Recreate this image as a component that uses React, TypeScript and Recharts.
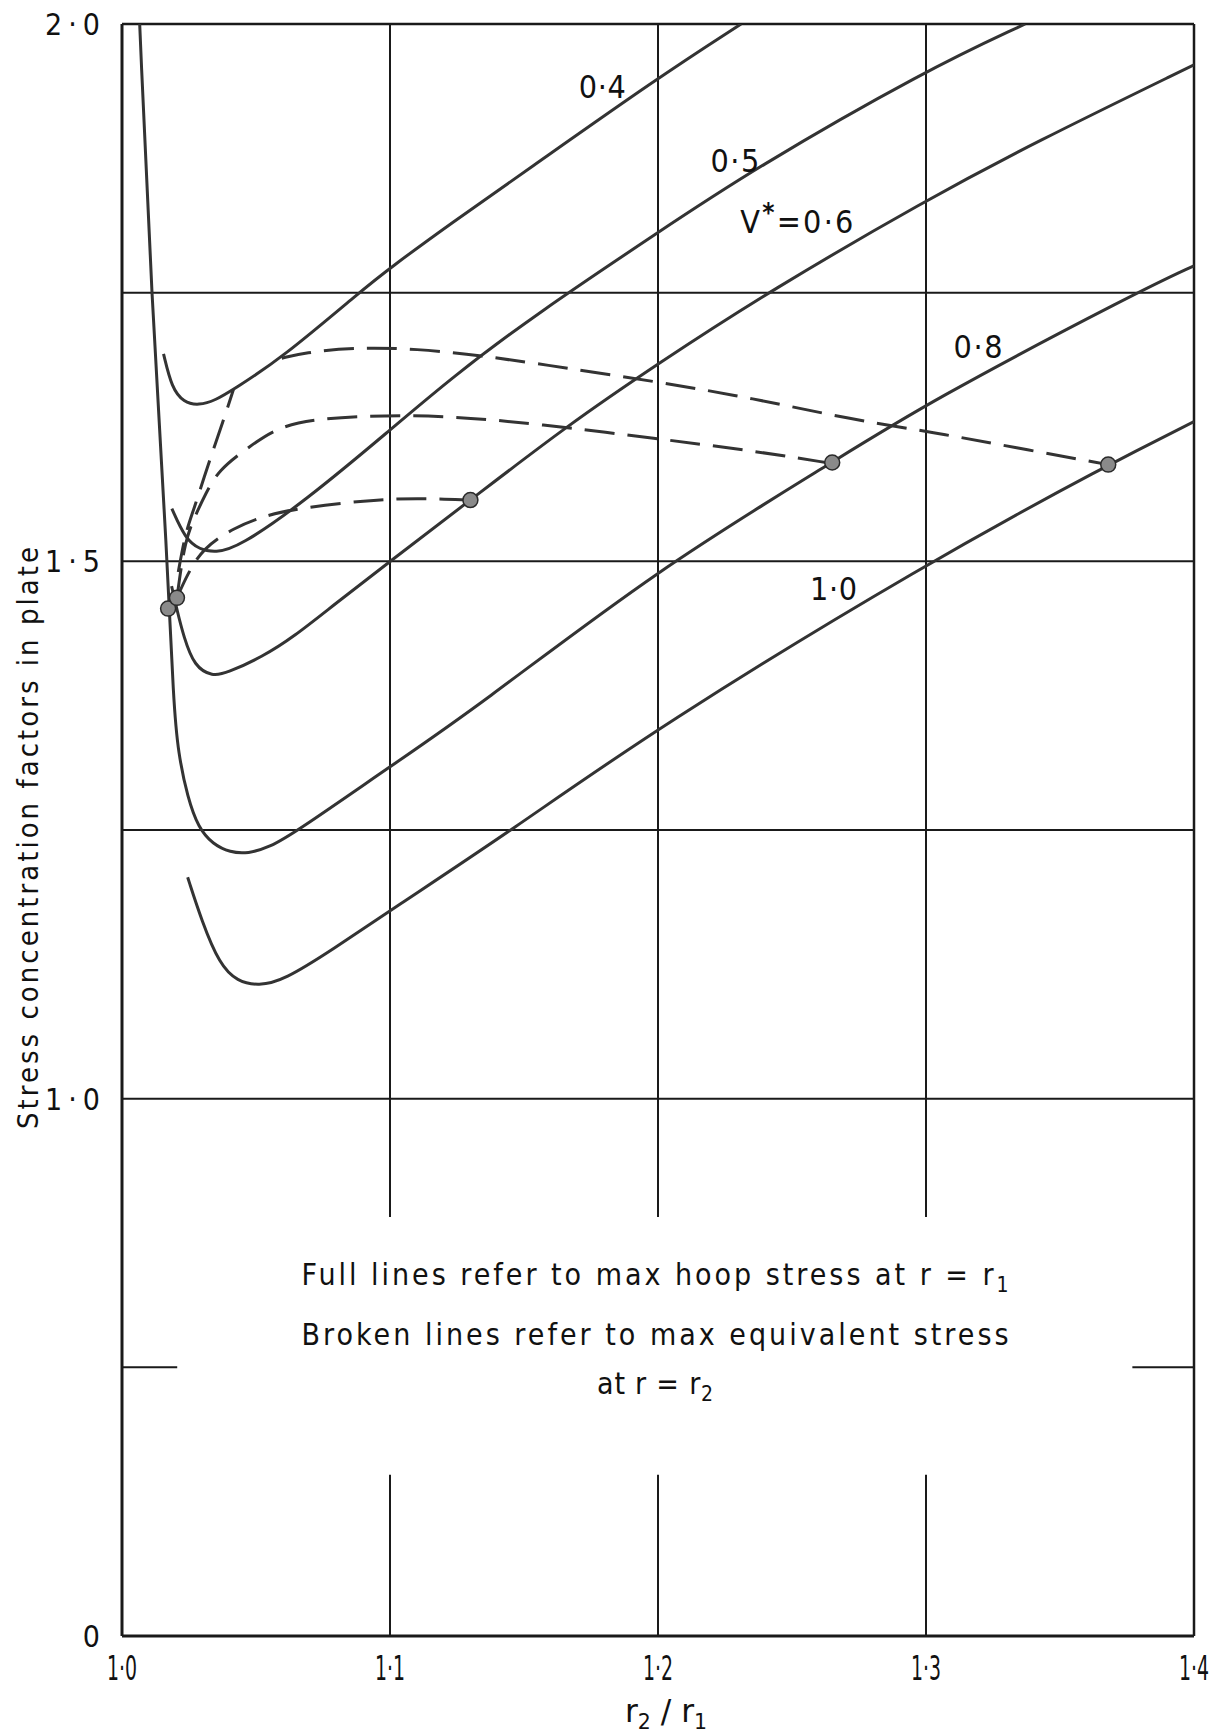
import React from "react";
import {
  ComposedChart, Line, Scatter, XAxis, YAxis, ReferenceLine, ReferenceDot,
} from "recharts";

const FONT = "'DejaVu Sans Condensed', 'Liberation Sans Narrow', 'DejaVu Sans', sans-serif";
const INK = "#333";
const GRID = "#1a1a1a";
const W = 1230;
const H = 1733;

// axes
const xTicks = [1.0, 1.1, 1.2, 1.3, 1.4];
const yTickValues = [0, 1.0, 1.5, 2.0];
const gridX = [1.1, 1.2, 1.3];
const gridY = [1.0, 1.25, 1.5, 1.75];
const gridGap = [0.3, 0.78]; // vertical grid broken round the note
const stubY = 0.5;

// full lines: max hoop stress at r = r1   [r2/r1, factor]
const v04 = [
  [1.0155, 1.693], [1.0186, 1.661], [1.023, 1.648], [1.0286, 1.645], [1.035, 1.65], [1.0416, 1.66],
  [1.0596, 1.689], [1.0894, 1.752], [1.1, 1.773], [1.123, 1.815], [1.15, 1.862], [1.2, 1.95], [1.231, 2.0],
];
const v05 = [
  [1.0186, 1.549], [1.0236, 1.521], [1.029, 1.511], [1.0348, 1.508], [1.0435, 1.513], [1.0683, 1.556],
  [1.1, 1.622], [1.123, 1.671], [1.155, 1.731], [1.2, 1.806], [1.235, 1.864], [1.3, 1.957], [1.337, 2.0],
];
const v06 = [
  [1.0185, 1.477], [1.0205, 1.455], [1.023, 1.43], [1.027, 1.402], [1.0338, 1.393], [1.039, 1.396],
  [1.0523, 1.411], [1.0642, 1.43], [1.0788, 1.459], [1.1, 1.5], [1.13, 1.557], [1.166, 1.626],
  [1.2, 1.684], [1.242, 1.752], [1.3, 1.836], [1.34, 1.889], [1.4, 1.962],
];
const v08 = [
  [1.0066, 2.0], [1.0109, 1.75], [1.017, 1.5], [1.0192, 1.368], [1.021, 1.321], [1.0245, 1.28],
  [1.0285, 1.252], [1.0338, 1.237], [1.0404, 1.229], [1.047, 1.228], [1.055, 1.234], [1.0642, 1.247],
  [1.1, 1.309], [1.1318, 1.363], [1.2, 1.493], [1.265, 1.592], [1.3, 1.647], [1.38, 1.752], [1.4, 1.775],
];
const v10 = [
  [1.0245, 1.206], [1.0298, 1.165], [1.0364, 1.125], [1.043, 1.109], [1.051, 1.105], [1.0603, 1.11],
  [1.0788, 1.139], [1.1, 1.175], [1.145, 1.249], [1.2, 1.346], [1.3, 1.498], [1.368, 1.59], [1.4, 1.63],
];

// broken lines: max equivalent stress at r = r2
const dashTop = [
  [1.0596, 1.689], [1.068, 1.694], [1.0857, 1.699], [1.11, 1.698], [1.135, 1.691], [1.155, 1.684],
  [1.2, 1.667], [1.235, 1.652], [1.272, 1.632], [1.303, 1.62], [1.333, 1.606], [1.368, 1.59],
];
const dashMid = [
  [1.0205, 1.466], [1.0235, 1.521], [1.028, 1.546], [1.031, 1.562], [1.036, 1.585], [1.0466, 1.605],
  [1.058, 1.625], [1.073, 1.633], [1.098, 1.636], [1.123, 1.635], [1.155, 1.628], [1.2, 1.614],
  [1.235, 1.603], [1.265, 1.591],
];
const dashLow = [
  [1.0205, 1.466], [1.0246, 1.489], [1.0302, 1.512], [1.0414, 1.531], [1.054, 1.543], [1.065, 1.549],
  [1.0914, 1.557], [1.11, 1.559], [1.13, 1.557],
];
const dashSteep = [
  [1.021, 1.49], [1.0236, 1.526], [1.0265, 1.546], [1.0328, 1.595], [1.0377, 1.63], [1.0416, 1.66],
];
const joints = [[1.0172, 1.456], [1.0205, 1.466], [1.13, 1.557], [1.265, 1.592], [1.368, 1.59]];

const curveLabels = [
  { text: "0·4", x: 1.1792, s: 1.9308, len: 47 },
  { text: "0·5", x: 1.2287, s: 1.8619, len: 49 },
  { text: "=0·6", x: 1.2518, s: 1.8053, len: 113, star: true },
  { text: "0·8", x: 1.3194, s: 1.6892, len: 49 },
  { text: "1·0", x: 1.2655, s: 1.464, len: 47 },
];
const noteX = 1.1989;
const noteLines = [
  { text: "Full lines refer to max hoop stress at r = r", sub: "1", s: 0.653, len: 707 },
  { text: "Broken lines refer to max equivalent stress", sub: "", s: 0.541, len: 707 },
  { text: "at r = r", sub: "2", s: 0.45, len: 116 },
];

// the stress axis is broken: 0..1.0 takes the height of 1.0..1.5
const toT = (s: number) => (s <= 1 ? s : 1 + 2 * (s - 1));
const fromT = (t: number) => (t <= 1 ? t : 1 + (t - 1) / 2);
const fmt = (v: number) => (v === 0 ? "0" : v.toFixed(1).replace(".", "·"));
const pts = (arr: number[][]) => arr.map(([x, s]) => ({ x, t: toT(s) }));

const renderYTick = (p: any) => {
  const label = fmt(fromT(p.payload.value));
  const extra = label.length > 1 ? { textLength: 55, lengthAdjust: "spacing" } : {};
  return (
    <text x={p.x} y={p.y} dy={11} textAnchor="end" fontFamily={FONT} fontSize={30} fill="#111" {...extra}>
      {label}
    </text>
  );
};

const renderXTick = (p: any) => (
  <text x={p.x} y={p.y} dy={44} textAnchor="middle" fontFamily={FONT} fontSize={34} fill="#111"
    textLength={30} lengthAdjust="spacingAndGlyphs">
    {fmt(p.payload.value)}
  </text>
);

const jointShape = (p: any) => (
  <circle cx={p.cx} cy={p.cy} r={7.5} fill="#8a8a8a" stroke="#2a2a2a" strokeWidth={1.5} />
);

export default function App() {
  const solid = [v04, v05, v06, v08, v10];
  const dashed = [dashTop, dashMid, dashLow, dashSteep];
  return (
    <div style={{ position: "absolute", left: 0, top: 0, width: W, height: H, background: "#fff" }}>
      <ComposedChart width={W} height={H} margin={{ top: 24, right: 36, bottom: 0, left: 0 }}>
        <XAxis type="number" dataKey="x" domain={[1.0, 1.4]} ticks={xTicks} interval={0} height={97}
          axisLine={false} tickLine={false} tickSize={0} tickMargin={0} tick={renderXTick} allowDataOverflow />
        <YAxis type="number" dataKey="t" domain={[0, 3]} ticks={yTickValues.map(toT)} interval={0} width={122}
          axisLine={false} tickLine={false} tickSize={0} tickMargin={22} tick={renderYTick} allowDataOverflow />

        {gridY.map((s) => (
          <ReferenceLine key={`h${s}`} y={toT(s)} stroke={GRID} strokeWidth={2} ifOverflow="visible" />
        ))}
        {gridX.map((x) => (
          <ReferenceLine key={`va${x}`} segment={[{ x, y: 3 }, { x, y: toT(gridGap[1]) }]} stroke={GRID} strokeWidth={2} ifOverflow="visible" />
        ))}
        {gridX.map((x) => (
          <ReferenceLine key={`vb${x}`} segment={[{ x, y: toT(gridGap[0]) }, { x, y: 0 }]} stroke={GRID} strokeWidth={2} ifOverflow="visible" />
        ))}
        <ReferenceLine segment={[{ x: 1.0, y: stubY }, { x: 1.0206, y: stubY }]} stroke={GRID} strokeWidth={2} ifOverflow="visible" />
        <ReferenceLine segment={[{ x: 1.377, y: stubY }, { x: 1.4, y: stubY }]} stroke={GRID} strokeWidth={2} ifOverflow="visible" />
        <ReferenceLine x={1.0} stroke={GRID} strokeWidth={3} ifOverflow="visible" />
        <ReferenceLine x={1.4} stroke={GRID} strokeWidth={2.5} ifOverflow="visible" />
        <ReferenceLine y={0} stroke={GRID} strokeWidth={3} ifOverflow="visible" />
        <ReferenceLine y={3} stroke={GRID} strokeWidth={2.5} ifOverflow="visible" />

        {solid.map((d, i) => (
          <Line key={`s${i}`} data={pts(d)} dataKey="t" type="basis" stroke={INK} strokeWidth={3}
            dot={false} activeDot={false} isAnimationActive={false} />
        ))}
        {dashed.map((d, i) => (
          <Line key={`d${i}`} data={pts(d)} dataKey="t" type="basis" stroke={INK} strokeWidth={3}
            strokeDasharray="30 13" dot={false} activeDot={false} isAnimationActive={false} />
        ))}
        <Scatter data={pts(joints)} dataKey="t" shape={jointShape} isAnimationActive={false} />

        {curveLabels.map((l) => (
          <ReferenceDot key={l.text} x={l.x} y={toT(l.s)} r={1} ifOverflow="visible"
            shape={(p: any) => (
              <text x={p.cx} y={p.cy} textAnchor="middle" fontFamily={FONT} fontSize={32} fill="#111"
                textLength={l.len} lengthAdjust="spacing">
                {l.star ? (
                  <>
                    <tspan>V</tspan>
                    <tspan dy={-11} fontSize={26} fontWeight="bold">*</tspan>
                    <tspan dy={11}>{l.text}</tspan>
                  </>
                ) : l.text}
              </text>
            )} />
        ))}
        {noteLines.map((n) => (
          <ReferenceDot key={n.text} x={noteX} y={toT(n.s)} r={1} ifOverflow="visible"
            shape={(p: any) => (
              <text x={p.cx} y={p.cy} textAnchor="middle" fontFamily={FONT} fontSize={30} fill="#111"
                textLength={n.len} lengthAdjust="spacing">
                {n.text}
                {n.sub ? <tspan dy={7} fontSize={21}>{n.sub}</tspan> : null}
              </text>
            )} />
        ))}
      </ComposedChart>
      <svg width={W} height={H} style={{ position: "absolute", left: 0, top: 0, pointerEvents: "none" }}>
        <text x={38} y={838} transform="rotate(-90, 38, 838)" textAnchor="middle" fontFamily={FONT}
          fontSize={29} fill="#111" textLength={582} lengthAdjust="spacing">
          Stress concentration factors in plate
        </text>
        <text x={666} y={1722} textAnchor="middle" fontFamily={FONT} fontSize={32} fill="#111"
          textLength={82} lengthAdjust="spacingAndGlyphs">
          r<tspan dy={7} fontSize={21}>2</tspan><tspan dy={-7}> / r</tspan><tspan dy={7} fontSize={21}>1</tspan>
        </text>
      </svg>
    </div>
  );
}
